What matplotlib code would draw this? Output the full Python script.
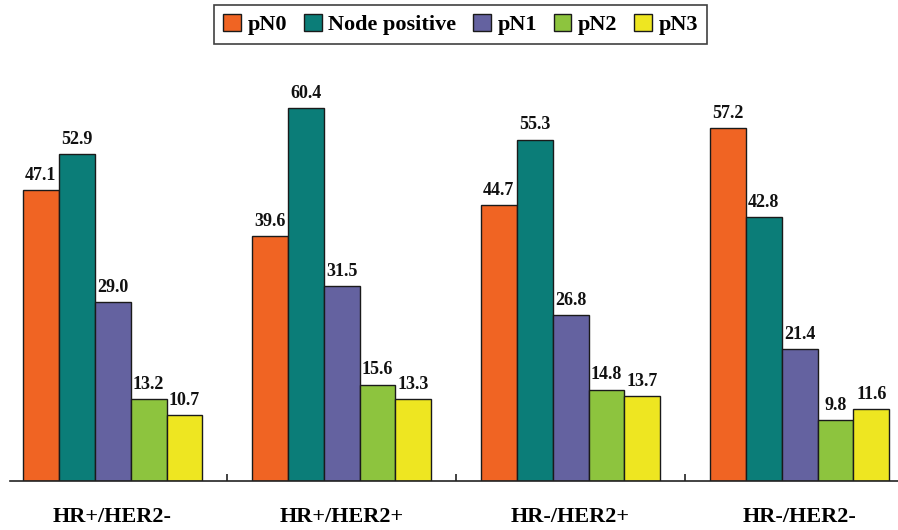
import matplotlib.pyplot as plt
import numpy as np

categories = ["HR+/HER2-", "HR+/HER2+", "HR-/HER2+", "HR-/HER2-"]
series_names = ["pN0", "Node positive", "pN1", "pN2", "pN3"]
pN0 = [47.1, 39.6, 44.7, 57.2]
node_positive = [52.9, 60.4, 55.3, 42.8]
pN1 = [29.0, 31.5, 26.8, 21.4]
pN2 = [13.2, 15.6, 14.8, 9.8]
pN3 = [10.7, 13.3, 13.7, 11.6]
series_values = [pN0, node_positive, pN1, pN2, pN3]
colors = ["#F06423", "#0B7D78", "#6462A0", "#8DC43E", "#EEE621"]

plt.rcParams['font.family'] = ['Liberation Serif', 'DejaVu Serif']

fig = plt.figure(figsize=(8.98, 5.3), dpi=100)
ax = fig.add_axes([10 / 898, 49 / 530, 888 / 898, (481 - 79.6) / 530])

x = np.arange(len(categories))
width = 0.157
for i, (name, vals, c) in enumerate(zip(series_names, series_values, colors)):
    pos = x + (i - 2) * width
    ax.bar(pos, vals, width, color=c, edgecolor="#1a1a1a", linewidth=1.0, label=name)
    for p, v in zip(pos, vals):
        ax.text(p, v + 1.0, f"{v:.1f}", ha="center", va="bottom",
                fontsize=13, fontweight="bold", color="#111111")

ax.set_ylim(0, 65)
ax.set_xlim(-0.448, 3.43)
ax.set_yticks([])
for s in ["left", "right", "top"]:
    ax.spines[s].set_visible(False)
ax.spines["bottom"].set_linewidth(1.2)
ax.spines["bottom"].set_color("#222222")

ax.set_xticks(x)
ax.set_xticklabels(categories, fontsize=16, fontweight="bold")
ax.tick_params(axis="x", which="major", length=0, pad=19)
ax.set_xticks([0.5, 1.5, 2.5], minor=True)
ax.tick_params(axis="x", which="minor", direction="in", length=5, width=1.2, color="#222222")

leg = fig.legend(loc="upper center", bbox_to_anchor=(0.513, 1.012), ncol=5,
                 frameon=True, fancybox=False, edgecolor="#111111",
                 prop={"size": 16, "weight": "bold"},
                 handlelength=0.8, handleheight=0.8, handletextpad=0.3,
                 columnspacing=0.75, borderpad=0.4)
leg.get_frame().set_linewidth(1.2)

fig.savefig("out.png", dpi=100)
